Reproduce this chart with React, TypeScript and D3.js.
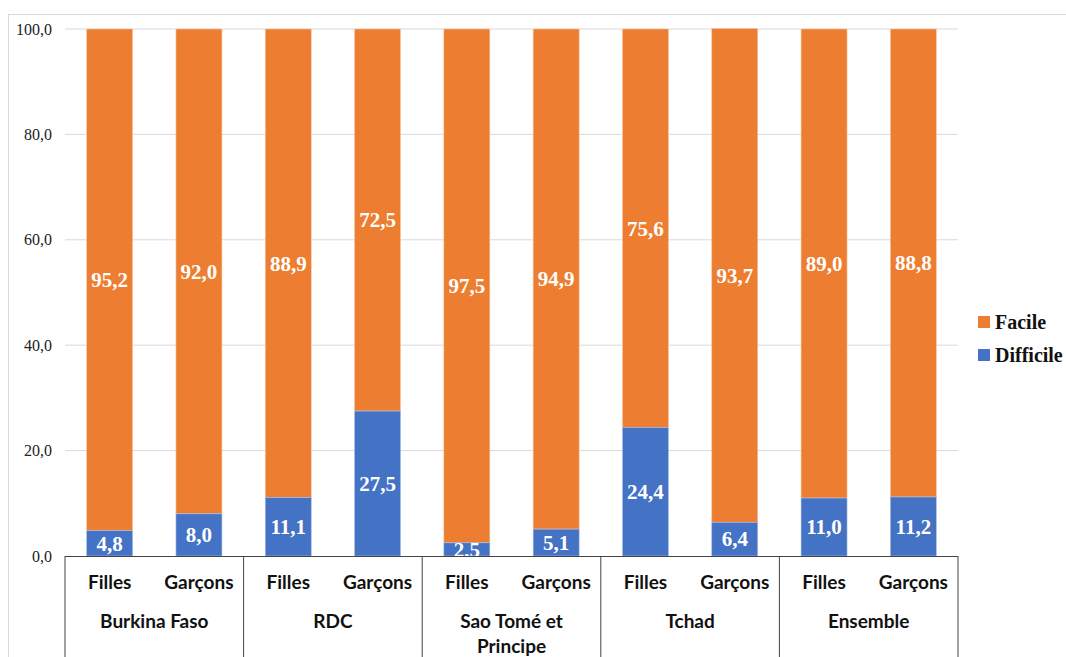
import React from "react";
import * as d3 from "d3";

const countries = ["Burkina Faso", "RDC", "Sao Tomé et Principe", "Tchad", "Ensemble"];
const sexes = ["Filles", "Garçons"];
const difficile = [4.8, 8.0, 11.1, 27.5, 2.5, 5.1, 24.4, 6.4, 11.0, 11.2];
const facile = [95.2, 92.0, 88.9, 72.5, 97.5, 94.9, 75.6, 93.7, 89.0, 88.8];
const yTicks = [0, 20, 40, 60, 80, 100];

const W = 1066, H = 657;
const left = 65, right = 958, top = 29, bottom = 556;
const ORANGE = "#ED7D31", BLUE = "#4472C4";
const fmt = (v: number) => v.toFixed(1).replace(".", ",");

export default function App() {
  const cats = countries.flatMap((c) => sexes.map((s) => `${c}|${s}`));
  const x = d3.scaleBand<string>().domain(cats).range([left, right]).paddingInner(0.485).paddingOuter(0.2425);
  const y = d3.scaleLinear().domain([0, 100]).range([bottom, top]);
  const groupW = (right - left) / countries.length;
  const labelFont = "'Liberation Serif', 'Times New Roman', serif";
  const axisFont = "Lato, 'Open Sans', sans-serif";

  return (
    <svg width={W} height={H} style={{ position: "absolute", left: 0, top: 0 }}>
      <rect x={0} y={0} width={W} height={H} fill="#fff" />
      <rect x={8.5} y={14.5} width={W + 20} height={H + 20} fill="none" stroke="#d9d9d9" strokeWidth={1} />
      {yTicks.map((t) => (
        <g key={t}>
          {t > 0 && <line x1={left} x2={right} y1={y(t)} y2={y(t)} stroke="#d9d9d9" strokeWidth={1} />}
          <text x={52} y={y(t)} dy="0.35em" textAnchor="end" fontFamily={labelFont} fontSize={16} fill="#222">
            {fmt(t)}
          </text>
        </g>
      ))}
      {cats.map((c, i) => {
        const bx = x(c)!;
        const bw = x.bandwidth();
        const d = difficile[i];
        const f = facile[i];
        return (
          <g key={c}>
            <rect x={bx} y={y(d + f)} width={bw} height={y(d) - y(d + f)} fill={ORANGE} stroke="#f6c9a8" strokeWidth={0.6} />
            <rect x={bx} y={y(d)} width={bw} height={y(0) - y(d)} fill={BLUE} stroke="#a9bfe6" strokeWidth={0.6} />
            <text x={bx + bw / 2} y={y(d + f / 2)} dy="0.35em" textAnchor="middle" fontFamily={labelFont} fontWeight="bold" fontSize={21} fill="#fff">
              {fmt(f)}
            </text>
            <text x={bx + bw / 2} y={y(d / 2)} dy="0.35em" textAnchor="middle" fontFamily={labelFont} fontWeight="bold" fontSize={21} fill="#fff">
              {fmt(d)}
            </text>
            <text x={bx + bw / 2} y={582} dy="0.35em" textAnchor="middle" fontFamily={axisFont} fontWeight="bold" fontSize={19} fill="#111">
              {c.split("|")[1]}
            </text>
          </g>
        );
      })}
      <line x1={left} x2={right} y1={bottom + 0.5} y2={bottom + 0.5} stroke="#444" strokeWidth={1} />
      {d3.range(countries.length + 1).map((i) => (
        <line key={i} x1={left + i * groupW} x2={left + i * groupW} y1={bottom} y2={H} stroke="#444" strokeWidth={1} />
      ))}
      {countries.map((c, i) => {
        const cx = left + (i + 0.5) * groupW;
        const lines = c === "Sao Tomé et Principe" ? ["Sao Tomé et", "Principe"] : [c];
        return (
          <text key={c} x={cx} y={621} textAnchor="middle" fontFamily={axisFont} fontWeight="bold" fontSize={19} fill="#111">
            {lines.map((l, j) => (
              <tspan key={j} x={cx} dy={j === 0 ? "0.35em" : 25}>{l}</tspan>
            ))}
          </text>
        );
      })}
      <rect x={978} y={316} width={12} height={12} fill={ORANGE} />
      <text x={995} y={322} dy="0.35em" fontFamily={labelFont} fontWeight="bold" fontSize={20} fill="#111">Facile</text>
      <rect x={978} y={349} width={12} height={12} fill={BLUE} />
      <text x={995} y={355} dy="0.35em" fontFamily={labelFont} fontWeight="bold" fontSize={20} fill="#111">Difficile</text>
    </svg>
  );
}
